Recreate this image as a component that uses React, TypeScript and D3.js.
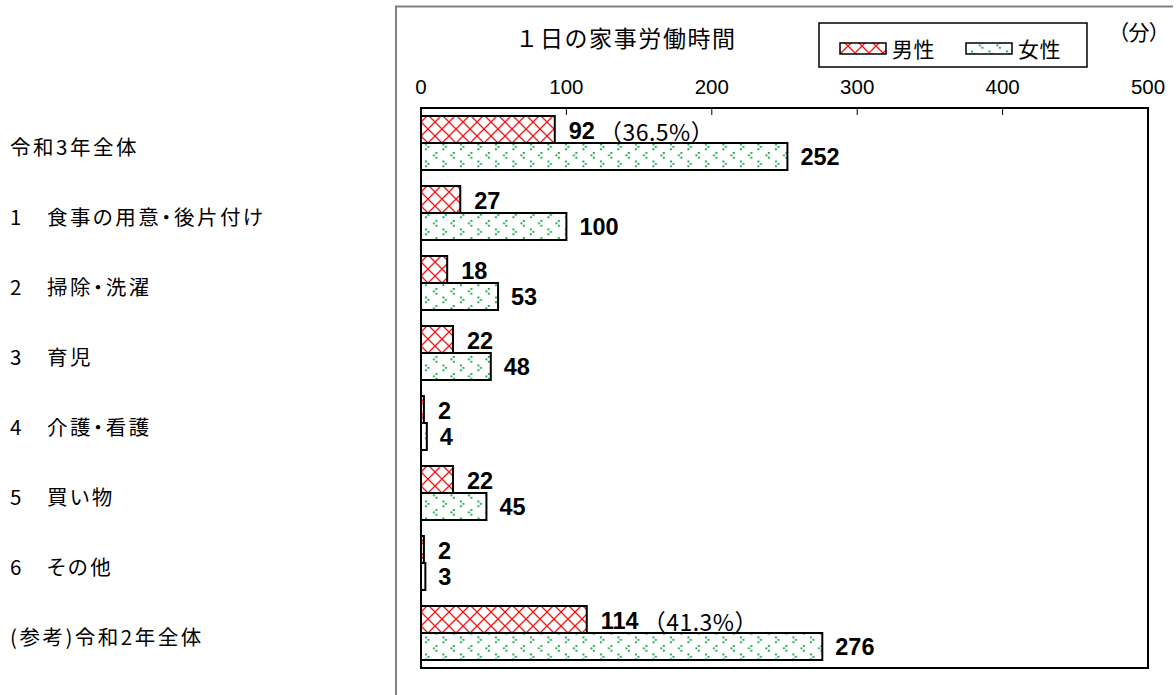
import React from "react";
import * as d3 from "d3";

const categories = [
  "令和3年全体",
  "1　食事の用意・後片付け",
  "2　掃除・洗濯",
  "3　育児",
  "4　介護・看護",
  "5　買い物",
  "6　その他",
  "(参考)令和2年全体",
];
const male = [92, 27, 18, 22, 2, 22, 2, 114];
const female = [252, 100, 53, 48, 4, 45, 3, 276];
const maleShare = ["36.5%", "", "", "", "", "", "", "41.3%"];
const ticks = [0, 100, 200, 300, 400, 500];
const seriesNames = ["男性", "女性"];

const W = 1176;
const H = 695;
const plot = { left: 421, right: 1148, top: 108, bottom: 668 };
const jp = "'Noto Sans CJK JP', 'Noto Sans', sans-serif";
const latin = "'Liberation Sans', Arial, sans-serif";

const App = () => {
  const x = d3.scaleLinear().domain([0, 500]).range([plot.left, plot.right]);
  const y = d3
    .scaleBand<number>()
    .domain(d3.range(categories.length))
    .range([plot.top, plot.bottom])
    .paddingInner(16 / 70)
    .paddingOuter(8 / 70);
  const sub = d3
    .scaleBand<string>()
    .domain(seriesNames)
    .range([0, y.bandwidth()]);

  // little ">" and "<" marks for the female fill
  const dot = (cx: number, cy: number, k: string) => (
    <rect key={k} x={cx} y={cy} width={1.9} height={1.9} fill="#12a84a" />
  );
  const gt = (ox: number, oy: number, k: string) => [
    dot(ox, oy, k + "a"),
    dot(ox + 2.4, oy + 2.4, k + "b"),
    dot(ox, oy + 4.8, k + "c"),
  ];
  const lt = (ox: number, oy: number, k: string) => [
    dot(ox + 2.4, oy, k + "a"),
    dot(ox, oy + 2.4, k + "b"),
    dot(ox + 2.4, oy + 4.8, k + "c"),
  ];

  return (
    <svg
      width={W}
      height={H}
      style={{ position: "absolute", left: 0, top: 0, background: "#fff" }}
    >
      <defs>
        <pattern id="pMale" width={14} height={14} patternUnits="userSpaceOnUse" x={plot.left} y={plot.top}>
          <rect width={14} height={14} fill="#fff" />
          <path d="M0,0L14,14M14,0L0,14" stroke="#ff1010" strokeWidth={1.3} />
        </pattern>
        <pattern id="pFemale" width={17.5} height={17} patternUnits="userSpaceOnUse" x={plot.left} y={plot.top}>
          <rect width={17.5} height={17} fill="#fff" />
          {gt(4, 1.5, "g")}
          {lt(12, 10, "l")}
        </pattern>
      </defs>

      <rect width={W} height={H} fill="#fff" />

      {/* outer frame */}
      <path d={`M396,${H}V6.5H1173`} fill="none" stroke="#808080" strokeWidth={2} />

      {/* title */}
      <text x={626} y={47} textAnchor="middle" fontFamily={jp} fontSize={23} letterSpacing={1.6}>
        １日の家事労働時間
      </text>

      {/* legend */}
      <rect x={819} y={23} width={268} height={44} fill="#fff" stroke="#000" strokeWidth={1.5} />
      {seriesNames.map((s, i) => (
        <g key={s} transform={`translate(${840 + i * 126},43)`}>
          <rect width={46} height={11} fill={i === 0 ? "url(#pMale)" : "url(#pFemale)"} stroke="#000" strokeWidth={1.5} />
          <text x={52} y={14} fontFamily={jp} fontSize={21} letterSpacing={0.5}>
            {s}
          </text>
        </g>
      ))}
      <text x={1118} y={40} fontFamily={jp} fontSize={21} style={{ fontFeatureSettings: "'palt'" }}>
        （分）
      </text>

      {/* tick labels */}
      {ticks.map((t) => (
        <text key={t} x={x(t)} y={94} textAnchor="middle" fontFamily={latin} fontSize={20.5}>
          {t}
        </text>
      ))}

      {/* category labels */}
      {categories.map((c, i) => (
        <text
          key={c}
          x={10}
          y={(y(i) ?? 0) + y.bandwidth() / 2 + 3}
          dominantBaseline="central"
          fontFamily={jp}
          fontSize={20.5}
          letterSpacing={2.5}
          style={{ fontFeatureSettings: "'palt'" }}
        >
          {c}
        </text>
      ))}

      {/* bars */}
      {categories.map((c, i) => {
        const y0 = y(i) ?? 0;
        const ym = y0 + (sub("男性") ?? 0);
        const yf = y0 + (sub("女性") ?? 0);
        const bh = sub.bandwidth();
        return (
          <g key={"b" + i}>
            <rect x={x(0)} y={ym} width={x(male[i]) - x(0)} height={bh} fill="url(#pMale)" stroke="#000" strokeWidth={2} />
            <rect x={x(0)} y={yf} width={x(female[i]) - x(0)} height={bh} fill="url(#pFemale)" stroke="#000" strokeWidth={2} />
            <text x={x(male[i]) + 14} y={ym + bh / 2 + 1} dominantBaseline="central" fontFamily={latin} fontSize={23.5}>
              <tspan fontWeight="bold">{male[i]}</tspan>
              {maleShare[i] && (
                <tspan fontFamily={jp} fontSize={23} dx={4} letterSpacing={0.5}>
                  （{maleShare[i]}）
                </tspan>
              )}
            </text>
            <text x={x(female[i]) + 13} y={yf + bh / 2} dominantBaseline="central" fontFamily={latin} fontSize={23.5} fontWeight="bold">
              {female[i]}
            </text>
          </g>
        );
      })}

      {/* plot frame and ticks */}
      <rect
        x={plot.left}
        y={plot.top}
        width={plot.right - plot.left}
        height={plot.bottom - plot.top}
        fill="none"
        stroke="#000"
        strokeWidth={2}
      />
      {ticks.slice(1, -1).map((t) => (
        <line key={"t" + t} x1={x(t)} x2={x(t)} y1={plot.top} y2={plot.top + 7} stroke="#000" strokeWidth={1} />
      ))}
    </svg>
  );
};

export default App;
